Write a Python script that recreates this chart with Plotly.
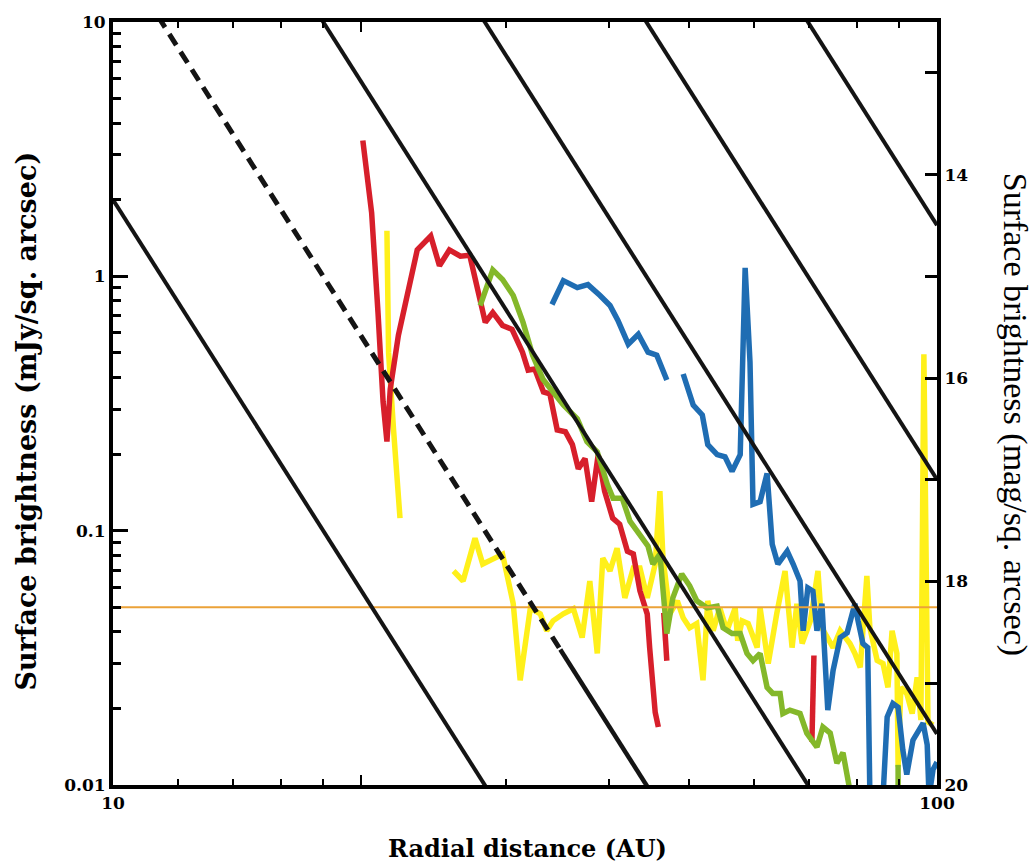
import plotly.graph_objects as go

# ---------------- data (AU, mJy / sq. arcsec) ----------------
red_x = [20.1, 20.6, 20.97, 21.27, 21.5, 21.7, 22.2, 22.8, 23.4, 24.3, 24.9, 25.6, 26.4, 27.1,
         27.7, 28.3, 28.9, 29.7, 30.5, 31.4, 31.9, 32.5, 33.3, 33.9, 34.6, 35.4, 36.1, 36.7,
         37.4, 38.1, 38.8, 39.5, 40.4, 41.2, 42.1, 42.8, 43.6, 44.5, 44.8, 45.2, 45.5, 45.9,
         None, 46.6, 47.0, None, 70.9, 70.5]
red_y = [3.42, 1.78, 0.721, 0.321, 0.224, 0.360, 0.586, 0.887, 1.27, 1.44, 1.10, 1.27, 1.20, 1.21,
         0.864, 0.659, 0.721, 0.641, 0.619, 0.503, 0.428, 0.432, 0.351, 0.345, 0.249, 0.245, 0.218, 0.175,
         0.192, 0.130, 0.199, 0.143, 0.112, 0.106, 0.083, 0.081, 0.058, 0.047, 0.0347, 0.0258, 0.0193, 0.0169,
         None, 0.0475, 0.0308, None, 0.0323, 0.0148]

green_x = [27.9, 28.9, 29.7, 30.6, 31.45, 32.3, 33.25, 34.2, 35.2, 36.6, 37.6, 38.7, 39.8, 40.45,
           41.5, 42.4, 43.6, 44.6, 45.2, 46.1, 47.0, 47.8, 49.0, 50.1, 51.1, 52.6, 54.1, 55.0,
           56.4, 57.7, 58.8, 59.8, 61.0, 62.2, 63.2, 64.5, 65.0, 66.3, 68.2, 69.5, 71.5, 72.7,
           74.2, 75.6, 76.9, 78.4, None, 89.7, 89.7]
green_y = [0.768, 1.06, 0.971, 0.841, 0.659, 0.490, 0.394, 0.351, 0.312, 0.275, 0.224, 0.204, 0.152, 0.134,
           0.134, 0.109, 0.0968, 0.0869, 0.0739, 0.0809, 0.0394, 0.0544, 0.0675, 0.0607, 0.0530, 0.0497, 0.0505, 0.0415,
           0.0394, 0.0394, 0.0329, 0.0308, 0.0329, 0.0242, 0.0229, 0.0229, 0.0191, 0.0197, 0.0191, 0.0160, 0.0141, 0.0169,
           0.0160, 0.0122, 0.0134, 0.0095, None, 0.0120, 0.0095]

blue_x = [34.1, 35.2, 36.6, 37.7, 39.0, 40.1, 41.0, 42.2, 43.4, 44.6, 45.7, 47.0, None,
          49.2, 50.6, 51.9, 52.7, 54.1, 55.3, 56.4, 57.7, 58.5, 59.3, 59.8, 61.0, 62.2, 63.1,
          64.1, 65.8, 66.9, 68.2, 68.8, 69.7, 70.7, 71.5, 72.5, 73.7, 74.8, 76.3, 77.8, 78.8,
          79.5, 80.2, 81.3, 82.4, 82.9, 86.0, 87.0, 88.4, 89.7, 90.9, 91.9, 93.5, 94.8, 96.2,
          97.3, 97.8, 98.9, 100.0]
blue_y = [0.775, 0.962, 0.903, 0.928, 0.841, 0.768, 0.671, 0.541, 0.592, 0.503, 0.490, 0.391, None,
          0.413, 0.312, 0.285, 0.218, 0.199, 0.195, 0.171, 0.199, 1.08, 0.460, 0.127, 0.130, 0.168, 0.0885,
          0.0739, 0.0831, 0.0739, 0.0634, 0.0404, 0.0596, 0.0579, 0.0404, 0.0516, 0.0197, 0.0282, 0.0380, 0.0397, 0.0454,
          0.0516, 0.0443, 0.0360, 0.0347, 0.009, 0.009, 0.0185, 0.0209, 0.0202, 0.0137, 0.0110, 0.0150, 0.0160, 0.0175,
          0.0144, 0.009, 0.0115, 0.0123]

yellow_x = [21.5, 21.6, 21.9, 22.3, None,
            25.9, 26.6, 27.5, 28.1, 28.9, 29.7, 30.6, 31.2, 32.1, 33.0, 33.6, 34.2, 35.2, 36.2,
            37.1, 37.9, 38.7, 39.3, 40.1, 40.9, 41.8, 42.8, 43.6, 44.5, 45.5, 46.1, 46.5, 47.4,
            48.4, 49.2, 50.1, 51.1, 52.0, 52.7, 53.5, 54.5, 55.6, 56.9, 57.3, 58.0, 59.0, 60.5,
            61.0, 62.4, 63.9, 65.4, 66.7, 67.6, 68.6, 70.2, 71.7, 72.5, 74.8, 76.3, 78.4, 79.5,
            80.7, 82.2, 82.9, 84.6, 86.0, 87.2, 88.2, 89.4, 89.7, 90.4, 91.9, 93.3, 94.6, 95.6,
            96.4, 97.5, 98.9]
yellow_y = [1.51, 0.50, 0.25, 0.112, None,
            0.0694, 0.0634, 0.0934, 0.0739, 0.0773, 0.0808, 0.0516, 0.0258, 0.0497, 0.0471, 0.0404, 0.0442, 0.0471, 0.0493,
            0.0380, 0.0634, 0.0329, 0.0780, 0.0694, 0.0853, 0.0544, 0.0713, 0.0713, 0.0544, 0.0739, 0.143, 0.078, 0.0471,
            0.0530, 0.0454, 0.0415, 0.0431, 0.0258, 0.0530, 0.0404, 0.0497, 0.0404, 0.0497, 0.0369, 0.0442, 0.0431, 0.0347,
            0.0497, 0.0300, 0.0471, 0.0694, 0.0347, 0.0516, 0.0360, 0.0442, 0.0694, 0.0415, 0.0347, 0.0404, 0.0360, 0.0329,
            0.0290, 0.0664, 0.0415, 0.0309, 0.0300, 0.0242, 0.0404, 0.0329, 0.0118, 0.0242, 0.0229, 0.0191, 0.0265, 0.0180,
            0.494, 0.0177, 0.0172]

# power-law reference lines: brightness at 10 AU and common slope
model_norm_10au = [2.0, 20.0, 200.0, 2000.0, 20000.0, 200000.0]
model_slope = -5.1
dashed_line_index = 1
dashed_until_au = 34.9

threshold_level = 0.05          # mJy / sq. arcsec

x_range_au = [10, 100]
y_major = [0.01, 0.1, 1, 10]
y_major_text = ["0.01", "0.1", "1", "10"]
y_minor = [m * d for d in (0.01, 0.1, 1) for m in range(2, 10)]
x_major = [10, 20, 100]
x_major_text = ["10", "", "100"]
x_minor = [12, 14, 16, 18, 30, 40, 50, 60, 70, 80, 90]
mag_major = [14, 16, 18, 20]
mag_minor = [13, 15, 17, 19]
mag_range = [20, 12.5]

# ---------------- figure ----------------
fig = go.Figure()

COL = dict(red="#d71f2b", green="#84b82a", blue="#1f6db3", yellow="#fff01a",
           orange="#eba239", black="#141414")
SERIES_W = 5.5

fig.add_trace(go.Scatter(x=yellow_x, y=yellow_y, mode="lines",
                         line=dict(color=COL["yellow"], width=SERIES_W), connectgaps=False))
fig.add_trace(go.Scatter(x=red_x, y=red_y, mode="lines",
                         line=dict(color=COL["red"], width=SERIES_W), connectgaps=False))
fig.add_trace(go.Scatter(x=green_x, y=green_y, mode="lines",
                         line=dict(color=COL["green"], width=SERIES_W), connectgaps=False))
fig.add_trace(go.Scatter(x=blue_x, y=blue_y, mode="lines",
                         line=dict(color=COL["blue"], width=SERIES_W), connectgaps=False))

fig.add_trace(go.Scatter(x=x_range_au, y=[threshold_level, threshold_level], mode="lines",
                         line=dict(color=COL["orange"], width=2)))


def power_law(norm, xs):
    return [norm * (x / 10.0) ** model_slope for x in xs]


for i, norm in enumerate(model_norm_10au):
    if i == dashed_line_index:
        xs1 = [x_range_au[0], dashed_until_au]
        xs2 = [dashed_until_au, x_range_au[1]]
        fig.add_trace(go.Scatter(x=xs1, y=power_law(norm, xs1), mode="lines",
                                 line=dict(color=COL["black"], width=5, dash="13px,8px")))
        fig.add_trace(go.Scatter(x=xs2, y=power_law(norm, xs2), mode="lines",
                                 line=dict(color=COL["black"], width=4.5)))
    else:
        fig.add_trace(go.Scatter(x=x_range_au, y=power_law(norm, x_range_au), mode="lines",
                                 line=dict(color=COL["black"], width=4)))

# invisible trace to anchor the magnitude axis
fig.add_trace(go.Scatter(x=x_range_au, y=[mag_major[-1], mag_major[-1]], yaxis="y2",
                         mode="lines", line=dict(width=0), hoverinfo="skip"))

tick_font = dict(family="DejaVu Serif", size=17, color="black", weight="bold")

fig.update_layout(
    width=1035, height=865,
    margin=dict(l=113, r=98, t=18, b=80),
    paper_bgcolor="white", plot_bgcolor="white",
    showlegend=False,
    xaxis=dict(type="log", range=[1, 2], showgrid=False, zeroline=False,
               showline=True, linewidth=4, linecolor="black", mirror="ticks",
               tickmode="array", tickvals=x_major, ticktext=x_major_text,
               ticks="inside", ticklen=10, tickwidth=2, tickcolor="black",
               tickfont=tick_font,
               minor=dict(tickmode="array", tickvals=x_minor, ticks="inside",
                          ticklen=6, tickwidth=2, tickcolor="black", showgrid=False)),
    yaxis=dict(type="log", range=[-2, 1], showgrid=False, zeroline=False,
               showline=True, linewidth=4, linecolor="black",
               tickmode="array", tickvals=y_major, ticktext=y_major_text,
               ticks="inside", ticklen=15, tickwidth=3, tickcolor="black",
               tickfont=tick_font,
               minor=dict(tickmode="array", tickvals=y_minor, ticks="inside",
                          ticklen=8, tickwidth=3, tickcolor="black", showgrid=False)),
    yaxis2=dict(overlaying="y", side="right", range=mag_range, showgrid=False, zeroline=False,
                showline=True, linewidth=4, linecolor="black",
                tickmode="array", tickvals=mag_major, ticktext=[str(v) for v in mag_major],
                ticks="inside", ticklen=12, tickwidth=3, tickcolor="black",
                tickfont=tick_font,
                minor=dict(tickmode="array", tickvals=mag_minor, ticks="inside",
                           ticklen=12, tickwidth=3, tickcolor="black", showgrid=False)),
)

fig.add_annotation(text="Radial distance (AU)", xref="paper", yref="paper",
                   x=0.503, y=-0.0834, xanchor="center", yanchor="middle", showarrow=False,
                   font=dict(family="DejaVu Serif", size=24, color="black", weight="bold"))
fig.add_annotation(text="Surface brightness (mJy/sq. arcsec)", xref="paper", yref="paper",
                   x=-0.105, y=0.477, xanchor="center", yanchor="middle", textangle=-90,
                   showarrow=False,
                   font=dict(family="DejaVu Serif", size=27, color="black", weight="bold"))
fig.add_annotation(text="Surface brightness (mag/sq. arcsec)", xref="paper", yref="paper",
                   x=1.094, y=0.486, xanchor="center", yanchor="middle", textangle=90,
                   showarrow=False,
                   font=dict(family="Liberation Serif", size=34, color="black"))

fig.write_html("out.html", config={"displayModeBar": False},
               post_script="document.body.style.margin='0';document.body.style.overflow='hidden';")
